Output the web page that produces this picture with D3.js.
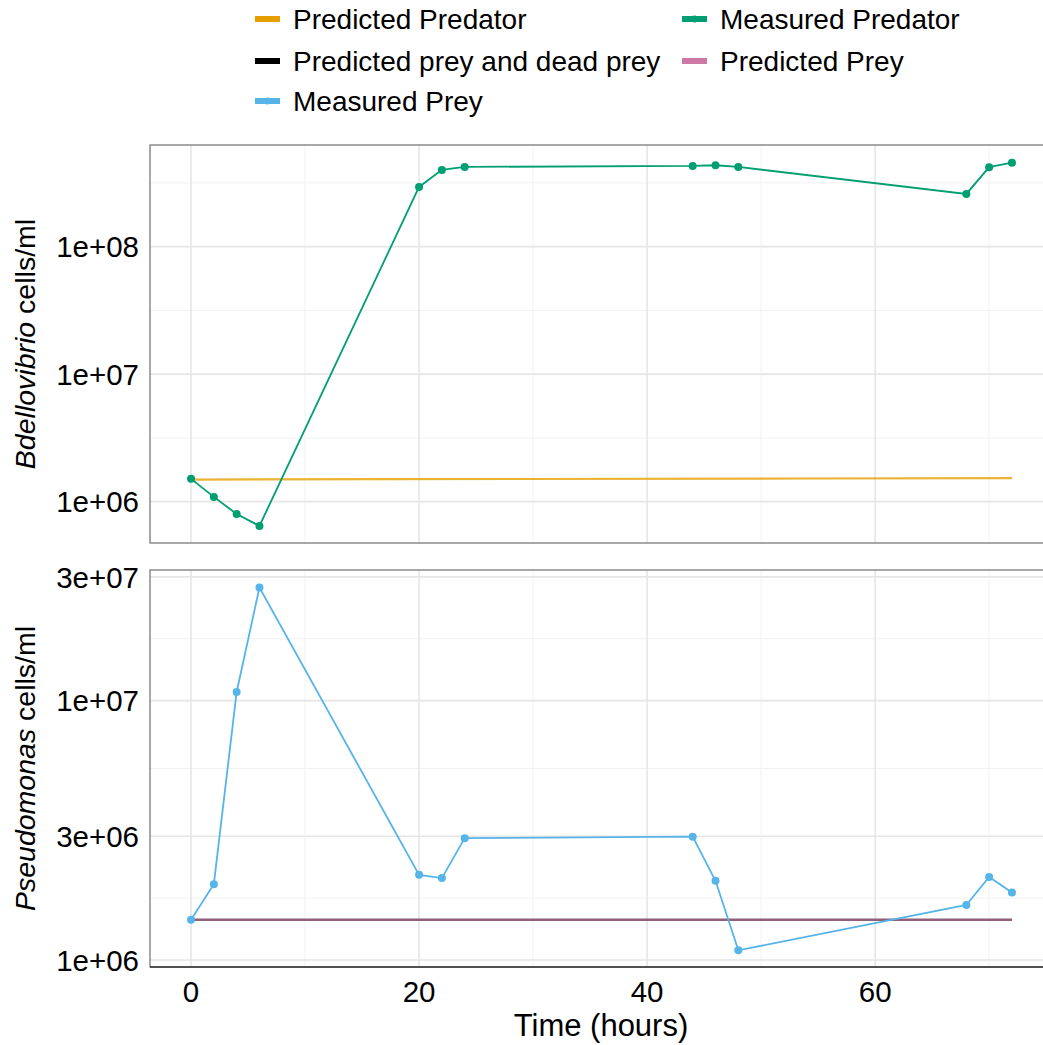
<!DOCTYPE html>
<html>
<head>
<meta charset="utf-8">
<script src="https://cdn.jsdelivr.net/npm/d3@7"></script>
<style>
  body { margin: 0; background: #fff; }
  text { font-family: "Liberation Sans", Arial, sans-serif; fill: #000; }
</style>
</head>
<body>
<svg id="chart" width="1043" height="1045"></svg>
<script>
// time points (hours)
var times = [0, 2, 4, 6, 20, 22, 24, 44, 46, 48, 68, 70, 72];
// measured predator (Bdellovibrio cells/ml)
var measuredPredator = [1.51e6, 1.09e6, 8.0e5, 6.45e5, 2.94e8, 4.0e8, 4.22e8, 4.3e8, 4.35e8, 4.22e8, 2.59e8, 4.2e8, 4.56e8];
// measured prey (Pseudomonas cells/ml)
var measuredPrey = [1.43e6, 1.96e6, 1.08e7, 2.73e7, 2.13e6, 2.07e6, 2.95e6, 2.99e6, 2.02e6, 1.09e6, 1.63e6, 2.09e6, 1.82e6];
// model curves
var predTimes = [0, 18, 54, 72];
var predictedPredator = [1.49e6, 1.5e6, 1.52e6, 1.53e6];
var predictedPrey = [1.43e6, 1.43e6, 1.43e6, 1.43e6];
var predictedPreyDead = [1.43e6, 1.43e6, 1.43e6, 1.43e6];

var xTicks = [0, 20, 40, 60];
var xMinor = [10, 30, 50, 70];
var topTicks = [1e6, 1e7, 1e8];
var bottomTicks = [1e6, 3e6, 1e7, 3e7];

var colors = {
  predPredator: "#E69F00",
  predPreyDead: "#000000",
  measPrey: "#56B4E9",
  measPredator: "#009E73",
  predPrey: "#CC79A7"
};

var svg = d3.select("#chart");

var left = 150, right = 1053;
var x = d3.scaleLinear().domain([-3.6, 75.6]).range([left, right]);

var panels = [
  { top: 145, bottom: 543, domain: [4.74e5, 6.27e8], ticks: topTicks,
    title: "Bdellovibrio", measured: measuredPredator, measColor: colors.measPredator,
    lines: [{ v: predictedPredator, c: colors.predPredator, o: 0.8 }] },
  { top: 570, bottom: 967, domain: [9.4e5, 3.19e7], ticks: bottomTicks,
    title: "Pseudomonas", measured: measuredPrey, measColor: colors.measPrey,
    lines: [{ v: predictedPreyDead, c: colors.predPreyDead, o: 1 },
            { v: predictedPrey, c: colors.predPrey, o: 0.75 }] }
];

var fmt = function(v) {
  var e = Math.floor(Math.log10(v) + 1e-9);
  var m = Math.round(v / Math.pow(10, e));
  return m + "e+" + (e < 10 ? "0" + e : e);
};

panels.forEach(function(p, pi) {
  var y = d3.scaleLog().domain(p.domain).range([p.bottom, p.top]);
  var g = svg.append("g");

  // minor grid (midpoints between major breaks in log space)
  var lt = p.ticks.map(function(t) { return Math.log10(t); });
  var step = lt[1] - lt[0];
  var minor = [];
  var ext = [lt[0] - step].concat(lt).concat([lt[lt.length - 1] + step]);
  for (var i = 0; i < ext.length - 1; i++) {
    minor.push(Math.pow(10, (ext[i] + ext[i + 1]) / 2));
  }
  minor = minor.filter(function(m) { return m > p.domain[0] && m < p.domain[1]; });

  g.selectAll(".ymin").data(minor).enter().append("line")
    .attr("x1", left).attr("x2", right)
    .attr("y1", function(d) { return y(d); }).attr("y2", function(d) { return y(d); })
    .attr("stroke", "#f1f1f1").attr("stroke-width", 1);
  g.selectAll(".xmin").data(xMinor).enter().append("line")
    .attr("x1", function(d) { return x(d); }).attr("x2", function(d) { return x(d); })
    .attr("y1", p.top).attr("y2", p.bottom)
    .attr("stroke", "#f1f1f1").attr("stroke-width", 1);
  g.selectAll(".ymaj").data(p.ticks).enter().append("line")
    .attr("x1", left).attr("x2", right)
    .attr("y1", function(d) { return y(d); }).attr("y2", function(d) { return y(d); })
    .attr("stroke", "#e6e6e6").attr("stroke-width", 1.6);
  g.selectAll(".xmaj").data(xTicks).enter().append("line")
    .attr("x1", function(d) { return x(d); }).attr("x2", function(d) { return x(d); })
    .attr("y1", p.top).attr("y2", p.bottom)
    .attr("stroke", "#e6e6e6").attr("stroke-width", 1.6);

  // model lines
  p.lines.forEach(function(l) {
    g.append("path")
      .datum(predTimes.map(function(t, i) { return [t, l.v[i]]; }))
      .attr("fill", "none").attr("stroke", l.c).attr("stroke-opacity", l.o)
      .attr("stroke-width", 2.2)
      .attr("d", d3.line().x(function(d) { return x(d[0]); }).y(function(d) { return y(d[1]); }));
  });

  // measured
  var pts = times.map(function(t, i) { return [t, p.measured[i]]; });
  g.append("path").datum(pts)
    .attr("fill", "none").attr("stroke", p.measColor).attr("stroke-width", 1.8)
    .attr("d", d3.line().x(function(d) { return x(d[0]); }).y(function(d) { return y(d[1]); }));
  g.selectAll(".pt").data(pts).enter().append("circle")
    .attr("cx", function(d) { return x(d[0]); })
    .attr("cy", function(d) { return y(d[1]); })
    .attr("r", 4).attr("fill", p.measColor);

  // border
  g.append("rect").attr("x", left).attr("y", p.top)
    .attr("width", right - left).attr("height", p.bottom - p.top)
    .attr("fill", "none").attr("stroke", "#7a7a7a").attr("stroke-width", 1.3);
  if (pi === 1) {
    g.append("line").attr("x1", left).attr("x2", right)
      .attr("y1", p.bottom).attr("y2", p.bottom)
      .attr("stroke", "#333").attr("stroke-width", 1.3);
  }

  // y tick labels
  g.selectAll(".ylab").data(p.ticks).enter().append("text")
    .attr("x", 139).attr("y", function(d) { return y(d); })
    .attr("dy", "0.36em").attr("text-anchor", "end")
    .style("font-size", "29.5px").text(fmt);

  // y title
  var cy = (p.top + p.bottom) / 2;
  var t = g.append("text")
    .attr("transform", "translate(35," + cy + ") rotate(-90)")
    .attr("text-anchor", "middle").style("font-size", "28.5px");
  t.append("tspan").style("font-style", "italic").text(p.title);
  t.append("tspan").text(" cells/ml");
});

// x axis labels
svg.selectAll(".xlab").data(xTicks).enter().append("text")
  .attr("x", function(d) { return x(d); }).attr("y", 1002)
  .attr("text-anchor", "middle").style("font-size", "29.5px").text(function(d) { return d; });
svg.append("text").attr("x", 601).attr("y", 1036)
  .attr("text-anchor", "middle").style("font-size", "31px").text("Time (hours)");

// legend
var legend = [
  { label: "Predicted Predator", c: colors.predPredator, pt: false, col: 0, row: 0 },
  { label: "Predicted prey and dead prey", c: colors.predPreyDead, pt: false, col: 0, row: 1 },
  { label: "Measured Prey", c: colors.measPrey, pt: true, col: 0, row: 2 },
  { label: "Measured Predator", c: colors.measPredator, pt: true, col: 1, row: 0 },
  { label: "Predicted Prey", c: colors.predPrey, pt: false, col: 1, row: 1 }
];
var colX = [255, 682], rowY = [19, 61, 101];
var lg = svg.selectAll(".leg").data(legend).enter().append("g")
  .attr("transform", function(d) { return "translate(" + colX[d.col] + "," + rowY[d.row] + ")"; });
lg.append("line").attr("x1", 0).attr("x2", 25).attr("y1", 0).attr("y2", 0)
  .attr("stroke", function(d) { return d.c; }).attr("stroke-width", 6);
lg.filter(function(d) { return d.pt; }).append("circle")
  .attr("cx", 12.5).attr("cy", 0).attr("r", 3.5).attr("fill", function(d) { return d.c; });
lg.append("text").attr("x", 38).attr("dy", "0.36em")
  .style("font-size", "28px").text(function(d) { return d.label; });
</script>
</body>
</html>
